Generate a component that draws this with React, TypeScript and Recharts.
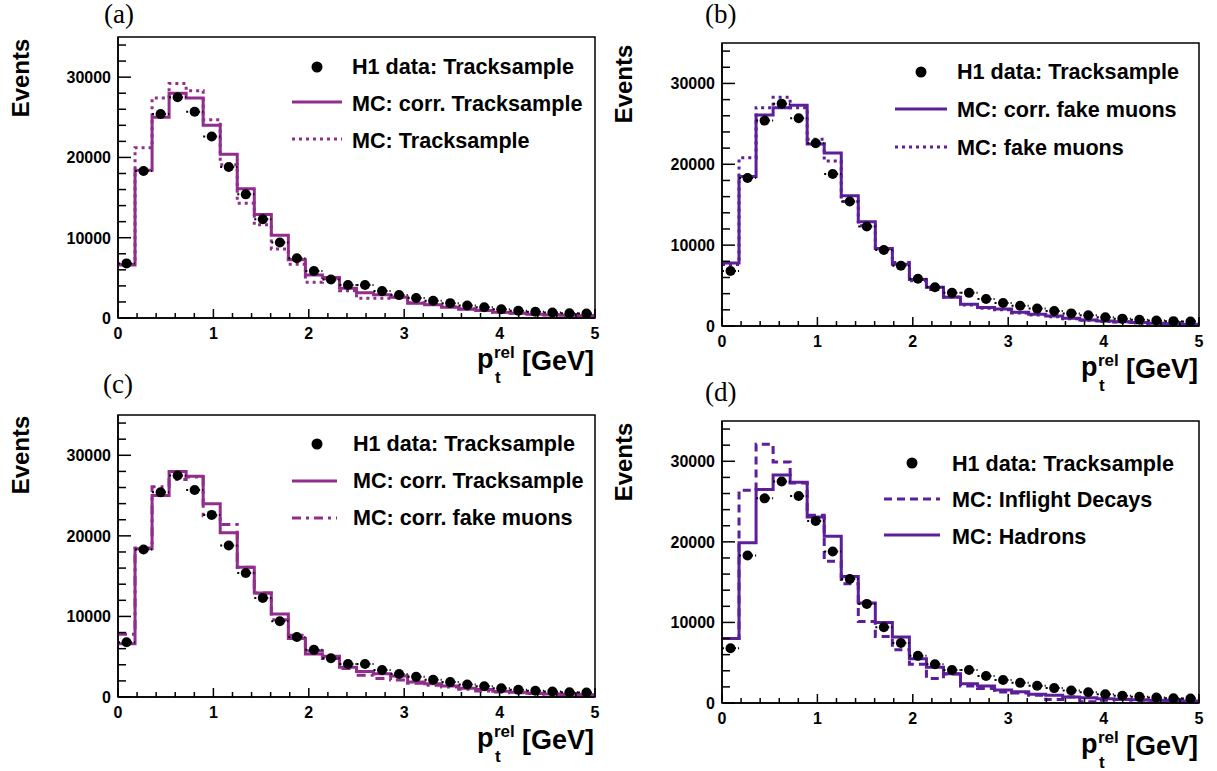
import { ComposedChart, Line, Scatter, ErrorBar, XAxis, YAxis, ReferenceArea } from "recharts";

// 28 bins between 0 and 5 GeV
const NBINS = 28;
const BIN_W = 5 / NBINS;

const h1Data = [6800, 18300, 25400, 27500, 25700, 22600, 18800, 15400, 12300, 9400, 7450, 5850, 4800, 4100, 4100, 3350, 2850, 2500, 2150, 1850, 1560, 1330, 1080, 910, 780, 680, 600, 560];
const mcCorrTracksample = [6600, 18400, 25000, 28000, 27400, 24000, 20400, 16100, 12900, 10300, 7250, 5350, 5050, 3700, 3150, 2900, 2600, 1850, 1650, 1350, 1100, 920, 720, 590, 470, 380, 330, 290];
const mcTracksample = [6700, 21200, 27400, 29200, 28300, 24700, 19100, 14300, 11600, 8600, 6700, 4450, 4900, 3400, 2450, 2450, 2600, 1900, 1700, 1400, 1150, 950, 700, 580, 450, 400, 300, 250];
const mcCorrFakeMuons = [7800, 18500, 26100, 27000, 27300, 22500, 21400, 16100, 12900, 9600, 7650, 5750, 4780, 3550, 2700, 2300, 2100, 1700, 1450, 1250, 950, 750, 620, 540, 420, 340, 290, 220];
const mcFakeMuons = [7600, 20800, 27000, 28300, 27000, 23100, 20400, 15400, 12400, 9500, 7850, 5600, 4500, 3600, 2600, 2200, 2000, 1600, 1350, 1150, 900, 700, 560, 480, 380, 300, 250, 200];
const mcInflight = [8000, 26400, 32100, 29900, 27300, 23300, 17600, 14800, 10100, 8250, 6600, 4800, 3050, 3600, 2100, 1800, 1350, 1250, 950, 420, 740, 150, 330, 420, 330, 200, 330, 60];
const mcHadrons = [8000, 19900, 26500, 28300, 27400, 23100, 20700, 15700, 12400, 10000, 8200, 5500, 4450, 3640, 2400, 2100, 1600, 1400, 1100, 950, 740, 660, 540, 450, 410, 330, 290, 250];

const xTicks = Array.from({ length: 26 }, (_, i) => Math.round(i * 2) / 10);
const yTicks = Array.from({ length: 18 }, (_, i) => i * 2000);

const SANS = '"Liberation Sans", Arial, Helvetica, sans-serif';
const SERIF = '"Liberation Serif", "DejaVu Serif", serif';
const PURPLE = "#912d8c";
const VIOLET = "#5c1f99";

const DOTTED = "3 4";
const DASHDOT = "9 5 3 5";
const DASHED = "8 5";

const Y_AXIS_W = 60;
const X_AXIS_H = 30;

type Series = { key: string; values: number[]; dash?: string };

const points = h1Data.map((y, i) => ({ x: (i + 0.5) * BIN_W, y, xe: BIN_W / 2 }));

const edgeRows = (series: Series[]) =>
  Array.from({ length: NBINS + 1 }, (_, i) => {
    const row: Record<string, number> = { x: i * BIN_W };
    series.forEach((s) => (row[s.key] = s.values[Math.min(i, NBINS - 1)]));
    return row;
  });

const renderXTick = (props: any) => {
  const { x, y, payload } = props;
  const v = payload.value;
  const major = Math.abs(v - Math.round(v)) < 1e-6;
  return (
    <g>
      <line x1={x} x2={x} y1={y} y2={y - (major ? 9 : 5)} stroke="#000" strokeWidth={1.5} />
      {major && (
        <text x={x} y={y + 21} textAnchor="middle" fontFamily={SANS} fontWeight="bold" fontSize={16} fill="#000">
          {Math.round(v)}
        </text>
      )}
    </g>
  );
};

const renderYTick = (props: any) => {
  const { x, y, payload } = props;
  const v = payload.value;
  const major = v % 10000 === 0;
  return (
    <g>
      <line x1={x} x2={x + (major ? 13 : 8)} y1={y} y2={y} stroke="#000" strokeWidth={1.5} />
      {major && (
        <text x={x - 7} y={y + 6} textAnchor="end" fontFamily={SANS} fontWeight="bold" fontSize={16} fill="#000">
          {v}
        </text>
      )}
    </g>
  );
};

const dataDot = (props: any) => <circle cx={props.cx} cy={props.cy} r={5} fill="#000" />;

interface PanelProps {
  left: number;
  top: number;
  width: number;
  height: number;
  plot: { left: number; top: number; right: number; bottom: number };
  color: string;
  series: Series[];
}

const Panel = ({ left, top, width, height, plot, color, series }: PanelProps) => {
  const margin = {
    top: plot.top - top,
    left: plot.left - left - Y_AXIS_W,
    right: left + width - plot.right,
    bottom: top + height - plot.bottom - X_AXIS_H,
  };
  return (
    <div style={{ position: "absolute", left, top }}>
      <ComposedChart width={width} height={height} data={edgeRows(series)} margin={margin}>
        <XAxis
          type="number"
          dataKey="x"
          domain={[0, 5]}
          ticks={xTicks}
          interval={0}
          tickSize={0}
          tickMargin={0}
          tickLine={false}
          tick={renderXTick}
          axisLine={{ stroke: "#000", strokeWidth: 1.5 }}
          height={X_AXIS_H}
          allowDataOverflow
        />
        <YAxis
          type="number"
          domain={[0, 35000]}
          ticks={yTicks}
          interval={0}
          tickSize={0}
          tickMargin={0}
          tickLine={false}
          tick={renderYTick}
          axisLine={{ stroke: "#000", strokeWidth: 1.5 }}
          width={Y_AXIS_W}
          allowDataOverflow
        />
        {series.map((s) => (
          <Line
            key={s.key}
            dataKey={s.key}
            type="stepAfter"
            stroke={color}
            strokeWidth={3}
            strokeDasharray={s.dash}
            dot={false}
            activeDot={false}
            isAnimationActive={false}
          />
        ))}
        <Scatter data={points} dataKey="y" fill="#000" shape={dataDot} isAnimationActive={false}>
          <ErrorBar dataKey="xe" direction="x" width={0} stroke="#000" strokeWidth={2} strokeDasharray="2 2" />
        </Scatter>
        <ReferenceArea x1={0} x2={5} y1={0} y2={35000} fill="none" stroke="#000" strokeWidth={1.5} />
      </ComposedChart>
    </div>
  );
};

interface LegendDef {
  mx: number;
  my: number;
  tx: number;
  baselines: number[];
  sx1: number;
  sx2: number;
  sy: number[];
  labels: string[];
  dashes: (string | undefined)[];
  color: string;
}

const PanelLegend = ({ mx, my, tx, baselines, sx1, sx2, sy, labels, dashes, color }: LegendDef) => (
  <g>
    <circle cx={mx} cy={my} r={5.5} fill="#000" />
    {sy.map((y, i) => (
      <line key={i} x1={sx1} x2={sx2} y1={y} y2={y} stroke={color} strokeWidth={3} strokeDasharray={dashes[i]} />
    ))}
    {labels.map((t, i) => (
      <text key={t} x={tx} y={baselines[i]} fontFamily={SANS} fontWeight="bold" fontSize={21.6} fill="#000">
        {t}
      </text>
    ))}
  </g>
);

const AxisTitle = ({ dx, dy }: { dx: number; dy: number }) => (
  <g fontFamily={SANS} fontWeight="bold" fill="#000">
    <text x={477 + dx} y={368 + dy} fontSize={27}>p</text>
    <text x={494 + dx} y={358 + dy} fontSize={17}>rel</text>
    <text x={495 + dx} y={383 + dy} fontSize={17}>t</text>
    <text x={522 + dx} y={370 + dy} fontSize={27}>[GeV]</text>
  </g>
);

const EventsLabel = ({ cx, cy }: { cx: number; cy: number }) => (
  <text
    transform={`translate(${cx},${cy}) rotate(-90)`}
    textAnchor="middle"
    dominantBaseline="central"
    fontFamily={SANS}
    fontWeight="bold"
    fontSize={24}
    fill="#000"
  >
    Events
  </text>
);

export default function App() {
  return (
    <div style={{ position: "absolute", left: 0, top: 0, width: 1217, height: 771, background: "#fff" }}>
      <Panel
        left={0}
        top={0}
        width={605}
        height={385}
        plot={{ left: 118, top: 37, right: 595, bottom: 318 }}
        color={PURPLE}
        series={[
          { key: "mcTracksample", values: mcTracksample, dash: DOTTED },
          { key: "mcCorrTracksample", values: mcCorrTracksample },
        ]}
      />
      <Panel
        left={605}
        top={0}
        width={612}
        height={390}
        plot={{ left: 722, top: 43, right: 1199, bottom: 326 }}
        color={VIOLET}
        series={[
          { key: "mcFakeMuons", values: mcFakeMuons, dash: DOTTED },
          { key: "mcCorrFakeMuons", values: mcCorrFakeMuons },
        ]}
      />
      <Panel
        left={0}
        top={380}
        width={605}
        height={391}
        plot={{ left: 118, top: 415, right: 595, bottom: 697 }}
        color={PURPLE}
        series={[
          { key: "mcCorrFakeMuons", values: mcCorrFakeMuons, dash: DASHDOT },
          { key: "mcCorrTracksample", values: mcCorrTracksample },
        ]}
      />
      <Panel
        left={605}
        top={385}
        width={612}
        height={386}
        plot={{ left: 722, top: 421, right: 1199, bottom: 703 }}
        color={VIOLET}
        series={[
          { key: "mcInflight", values: mcInflight, dash: DASHED },
          { key: "mcHadrons", values: mcHadrons },
        ]}
      />
      <svg width={1217} height={771} style={{ position: "absolute", left: 0, top: 0, pointerEvents: "none" }}>
        <g fontFamily={SERIF} fontSize={27} fill="#000">
          <text x={104} y={23}>(a)</text>
          <text x={705} y={23}>(b)</text>
          <text x={103} y={393}>(c)</text>
          <text x={705} y={401}>(d)</text>
        </g>
        <EventsLabel cx={20} cy={78} />
        <EventsLabel cx={623} cy={84} />
        <EventsLabel cx={20} cy={455} />
        <EventsLabel cx={623} cy={462} />
        <AxisTitle dx={0} dy={0} />
        <AxisTitle dx={604} dy={8} />
        <AxisTitle dx={0} dy={379} />
        <AxisTitle dx={604} dy={385} />
        <PanelLegend
          mx={317}
          my={67}
          tx={352}
          baselines={[74, 111, 148]}
          sx1={292}
          sx2={342}
          sy={[102, 139]}
          labels={["H1 data: Tracksample", "MC: corr. Tracksample", "MC: Tracksample"]}
          dashes={[undefined, DOTTED]}
          color={PURPLE}
        />
        <PanelLegend
          mx={921}
          my={72}
          tx={957}
          baselines={[79, 117, 155]}
          sx1={895}
          sx2={947}
          sy={[109, 147]}
          labels={["H1 data: Tracksample", "MC: corr. fake muons", "MC: fake muons"]}
          dashes={[undefined, DOTTED]}
          color={VIOLET}
        />
        <PanelLegend
          mx={317}
          my={444}
          tx={353}
          baselines={[451, 488, 525]}
          sx1={292}
          sx2={337}
          sy={[481, 518]}
          labels={["H1 data: Tracksample", "MC: corr. Tracksample", "MC: corr. fake muons"]}
          dashes={[undefined, DASHDOT]}
          color={PURPLE}
        />
        <PanelLegend
          mx={912}
          my={463}
          tx={952}
          baselines={[471, 507, 544]}
          sx1={884}
          sx2={940}
          sy={[499, 535]}
          labels={["H1 data: Tracksample", "MC: Inflight Decays", "MC: Hadrons"]}
          dashes={[DASHED, undefined]}
          color={VIOLET}
        />
      </svg>
    </div>
  );
}
